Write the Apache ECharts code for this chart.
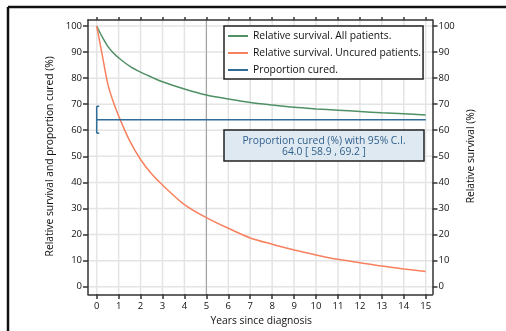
<!DOCTYPE html>
<html>
<head>
<meta charset="utf-8">
<script src="https://cdn.jsdelivr.net/npm/echarts@6/dist/echarts.min.js"></script>
<style>
html,body{margin:0;padding:0;background:#fff;}
#c{width:506px;height:331px;}
</style>
</head>
<body>
<div id="c"></div>
<script>
// ---- data ----
const years = [0, 0.25, 0.5, 0.75, 1, 1.5, 2, 2.5, 3, 4, 5, 6, 7, 8, 9, 10, 11, 12, 13, 14, 15];
const allPatients = [100, 95.8, 92.3, 89.7, 87.8, 84.6, 82.3, 80.4, 78.6, 75.8, 73.5, 72.0, 70.7, 69.7, 68.8, 68.2, 67.7, 67.2, 66.7, 66.3, 65.9];
const uncuredPatients = [100, 89, 78, 71, 65.5, 56, 48.8, 43.3, 39, 31.5, 26.5, 22.4, 18.7, 16.3, 14.1, 12.2, 10.5, 9.2, 7.9, 6.8, 5.8];
const cureEstimate = 64.0;
const cureLower = 58.9;
const cureUpper = 69.2;
const cureYears = [0, 15];
const xTicks = [0,1,2,3,4,5,6,7,8,9,10,11,12,13,14,15];
const yTicks = [0,10,20,30,40,50,60,70,80,90,100];
const markYear = 5;
const seriesNames = ['Relative survival. All patients.', 'Relative survival. Uncured patients.', 'Proportion cured.'];

// ---- layout ----
const W = 506, H = 331;
const frame = {left: 88, right: 432.5, top: 20, bottom: 294.3};
const xPx0 = 96.7, xPx15 = 425.7, yPx0 = 286.7, yPx100 = 26;
const pxX = (xPx15 - xPx0) / 15, pxY = (yPx0 - yPx100) / 100;
const xMinA = 0 - (xPx0 - frame.left) / pxX;
const xMaxA = 15 + (frame.right - xPx15) / pxX;
const yMinA = 0 - (frame.bottom - yPx0) / pxY;
const yMaxA = 100 + (yPx100 - frame.top) / pxY;

const FONT = '"Open Sans", sans-serif';
const FS = 9.5, FT = 10.3;
const GREEN = '#4f9065', RED = '#f7815f', BLUE = '#2f6c98';
const AX = '#333';

const chart = echarts.init(document.getElementById('c'), null, {renderer: 'canvas'});

const hidden = {axisLabel:{show:false}, axisTick:{show:false}, splitLine:{show:false}};
const frameLine = {show:true, onZero:false, lineStyle:{color:AX, width:1.5}};
const ghostLine = {show:true, onZero:false, lineStyle:{color:'rgba(0,0,0,0)', width:0}};
const tickStyle = (len) => ({show:true, length:len, lineStyle:{color:AX, width:1.5}});
const labelStyle = (m) => ({show:true, margin:m, fontSize:FS, color:'#111', fontFamily:FONT});
const nameStyle = {fontSize:FT, color:'#111', fontFamily:FONT};

function gridLineSeries(values, vertical, color, width, z) {
  return {
    type:'custom', xAxisIndex:0, yAxisIndex:0, silent:true, z:z, clip:false,
    data: values.map(v => [v]),
    renderItem: function(params, api){
      const cs = params.coordSys;
      const v = api.value(0);
      let shape;
      if (vertical) {
        const p = api.coord([v, 0]);
        shape = {x1:p[0], y1:cs.y, x2:p[0], y2:cs.y + cs.height};
      } else {
        const p = api.coord([0, v]);
        shape = {x1:cs.x, y1:p[1], x2:cs.x + cs.width, y2:p[1]};
      }
      return {type:'line', shape:shape, style:{stroke:color, lineWidth:width}};
    }
  };
}

const option = {
  animation: false,
  backgroundColor: '#fff',
  textStyle: {fontFamily: FONT},
  grid: [
    {left: frame.left, top: frame.top, width: frame.right - frame.left, height: frame.bottom - frame.top},
    {left: xPx0, top: yPx100, width: xPx15 - xPx0, height: yPx0 - yPx100}
  ],
  xAxis: [
    Object.assign({gridIndex:0, type:'value', position:'bottom', min:xMinA, max:xMaxA, axisLine:frameLine, z:20}, hidden),
    Object.assign({gridIndex:0, type:'value', position:'top', min:xMinA, max:xMaxA, axisLine:frameLine, z:20}, hidden),
    {gridIndex:1, type:'value', position:'bottom', min:0, max:15, interval:1, offset: frame.bottom - yPx0,
     axisLine:ghostLine, axisTick:tickStyle(5), axisLabel:labelStyle(7), splitLine:{show:false},
     name:'Years since diagnosis', nameLocation:'middle', nameGap:16, nameTextStyle:nameStyle},
    {gridIndex:1, type:'value', position:'top', min:0, max:15, interval:1, offset: yPx100 - frame.top,
     axisLine:ghostLine, axisTick:tickStyle(3), axisLabel:{show:false}, splitLine:{show:false}}
  ],
  yAxis: [
    Object.assign({gridIndex:0, type:'value', position:'left', min:yMinA, max:yMaxA, axisLine:frameLine, z:20}, hidden),
    Object.assign({gridIndex:0, type:'value', position:'right', min:yMinA, max:yMaxA, axisLine:frameLine, z:20}, hidden),
    {gridIndex:1, type:'value', position:'left', min:0, max:100, interval:10, offset: xPx0 - frame.left,
     axisLine:ghostLine, axisTick:tickStyle(5), axisLabel:labelStyle(6), splitLine:{show:false},
     name:'Relative survival and proportion cured (%)', nameLocation:'middle', nameGap:32, nameTextStyle:nameStyle},
    {gridIndex:1, type:'value', position:'right', min:0, max:100, interval:10, offset: frame.right - xPx15,
     axisLine:ghostLine, axisTick:tickStyle(5), axisLabel:labelStyle(6), splitLine:{show:false},
     name:'Relative survival (%)', nameLocation:'middle', nameGap:31, nameRotate:90, nameTextStyle:nameStyle}
  ],
  legend: {
    orient:'vertical', left:224, top:26, z:50,
    data: seriesNames,
    icon:'rect', itemWidth:20, itemHeight:2, itemGap:5,
    padding:[4, 2, 3, 4],
    borderColor:'#222', borderWidth:1.5, backgroundColor:'#fff',
    textStyle:{fontSize:FT, color:'#111', fontFamily:FONT, lineHeight:12},
    selectedMode:false
  },
  series: [
    gridLineSeries(xTicks, true, '#e4e4e4', 1.5, 1),
    gridLineSeries(yTicks, false, '#e4e4e4', 1.5, 1),
    gridLineSeries([markYear], true, '#9a9a9a', 1, 2),
    {
      name: seriesNames[0], type:'line', xAxisIndex:0, yAxisIndex:0, z:5,
      data: years.map((t,i) => [t, allPatients[i]]),
      smooth:0.3, symbol:'none', lineStyle:{color:GREEN, width:1.5}, itemStyle:{color:GREEN}
    },
    {
      name: seriesNames[1], type:'line', xAxisIndex:0, yAxisIndex:0, z:5,
      data: years.map((t,i) => [t, uncuredPatients[i]]),
      smooth:0.3, symbol:'none', lineStyle:{color:RED, width:1.5}, itemStyle:{color:RED}
    },
    {
      name: seriesNames[2], type:'line', xAxisIndex:0, yAxisIndex:0, z:5,
      data: cureYears.map(t => [t, cureEstimate]),
      symbol:'none', lineStyle:{color:BLUE, width:1.5}, itemStyle:{color:BLUE}
    },
    {
      type:'custom', xAxisIndex:0, yAxisIndex:0, z:5, silent:true,
      data:[[cureYears[0], cureLower, cureUpper]],
      renderItem: function(params, api){
        const pLo = api.coord([api.value(0), api.value(1)]);
        const pHi = api.coord([api.value(0), api.value(2)]);
        const cap = 2.5;
        const st = {stroke:BLUE, lineWidth:1.5, fill:null};
        return {type:'group', children:[
          {type:'line', shape:{x1:pLo[0], y1:pLo[1], x2:pHi[0], y2:pHi[1]}, style:st},
          {type:'line', shape:{x1:pLo[0], y1:pLo[1], x2:pLo[0]+cap, y2:pLo[1]}, style:st},
          {type:'line', shape:{x1:pHi[0], y1:pHi[1], x2:pHi[0]+cap, y2:pHi[1]}, style:st}
        ]};
      }
    }
  ],
  graphic: [
    {type:'line', shape:{x1:8, y1:7, x2:8, y2:H}, style:{stroke:'#111', lineWidth:2.5}, z:100},
    {type:'line', shape:{x1:8, y1:7, x2:W, y2:7}, style:{stroke:'#111', lineWidth:2.5}, z:100},
    {type:'rect', shape:{x:224, y:130, width:200, height:31}, style:{fill:'#dfe9f1', stroke:'#222', lineWidth:1.5}, z:100},
    {type:'text', x:324, y:141.5, z:101, style:{text:'Proportion cured (%) with 95% C.I.', fill:'#2f5f8c', font:FT + 'px ' + FONT, textAlign:'center', textVerticalAlign:'middle'}},
    {type:'text', x:324, y:152.5, z:101, style:{text: cureEstimate.toFixed(1) + ' [ ' + cureLower.toFixed(1) + ' , ' + cureUpper.toFixed(1) + ' ]', fill:'#2f5f8c', font:FT + 'px ' + FONT, textAlign:'center', textVerticalAlign:'middle'}}
  ]
};
chart.setOption(option);
</script>
</body>
</html>
